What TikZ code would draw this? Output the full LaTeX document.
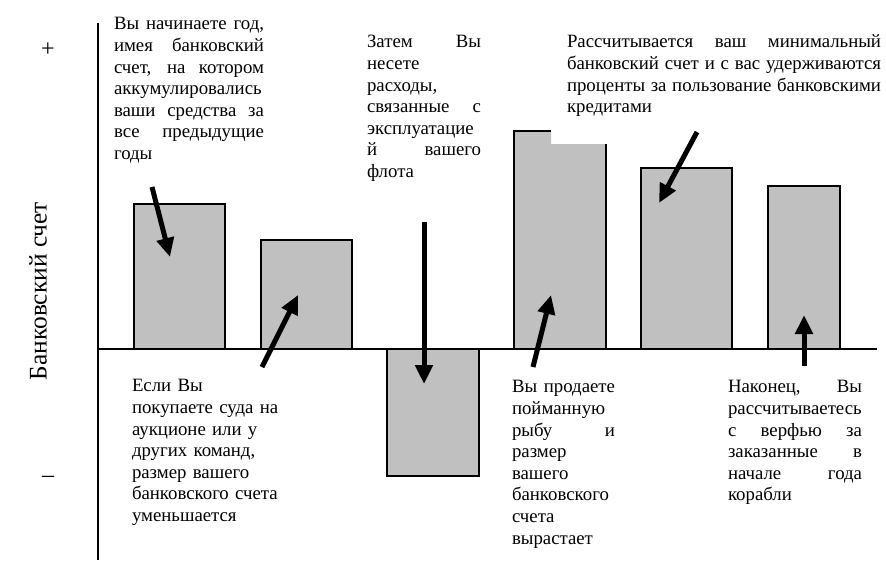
\documentclass[tikz,border=0pt]{standalone}
\usepackage{fontspec}
\setmainfont{Liberation Serif}
\usetikzlibrary{arrows.meta}
\newcommand\jl[1]{{\spaceskip=0.25em plus 1fil\relax\xspaceskip=0.25em plus 1fil\relax\makebox[\hsize][s]{#1}}}
\definecolor{bargray}{RGB}{192,192,192}
\begin{document}
\begin{tikzpicture}[x=1pt,y=-1pt,
  txt/.style={anchor=north west,inner sep=0pt,outer sep=0pt,align=left,font=\fontsize{18.8}{21.6}\selectfont},
  sign/.style={inner sep=0pt,font=\fontsize{24}{28}\selectfont},
  bar/.style={fill=bargray,draw=black,line width=1.3pt},
  axis/.style={line width=1.6pt},
  bigarrow/.style={line width=5pt,-{Triangle[length=19pt,width=17pt]}}]
\useasboundingbox[fill=white] (0,0) rectangle (886,576);

% bars
\draw[bar] (134,349) rectangle (225,204);
\draw[bar] (261,349) rectangle (352,240);
\draw[bar] (387,349) rectangle (479,476);
\fill[bargray] (514,349) -- (514,131) -- (551,131) -- (551,144) -- (606,144) -- (606,349) -- cycle;
\draw[line width=1.3pt] (514,349) -- (514,131) -- (551,131);
\draw[line width=1.3pt] (606,144) -- (606,349);
\draw[bar] (641,349) rectangle (732,168);
\draw[bar] (768,349) rectangle (840,186);

% axes
\coordinate (ytop) at (98,23);
\coordinate (ybot) at (98,560);
\coordinate (xleft) at (98,349);
\coordinate (xright) at (877,349);
\draw[axis] (ytop) -- (ybot);
\draw[axis] (xleft) -- (xright);

% signs and axis label
\node[sign] (plus) at (48,50) {+};
\node[sign] (minus) at (48,479) {–};
\node[rotate=90,inner sep=0pt,font=\fontsize{25.4}{30}\selectfont] (ylabel) at (38,291) {Банковский счет};

% texts
\node[txt,text width=150pt] (t1) at (114,14.8) {\strut\jl{Вы начинаете год,}\\\jl{имея банковский}\\\jl{счет, на котором}\\\jl{аккумулировались}\\\jl{ваши средства за}\\\jl{все предыдущие}\\годы};
\node[txt,text width=114pt] (t2) at (367,32.8) {\strut\jl{Затем Вы}\\несете\\расходы,\\\jl{связанные с}\\эксплуатацие\\\jl{й вашего}\\флота};
\node[txt,text width=314pt] (t3) at (567,32.8) {\strut\jl{Рассчитывается ваш минимальный}\\\jl{банковский счет и с вас удерживаются}\\\jl{проценты за пользование банковскими}\\кредитами};
\node[txt,text width=160pt] (t4) at (132,376.8) {\strut Если Вы\\покупаете суда на\\аукционе или у\\других команд,\\размер вашего\\банковского счета\\уменьшается};
\node[txt,text width=103pt] (t5) at (512,377.8) {\strut\jl{Вы продаете}\\пойманную\\\jl{рыбу и}\\размер\\вашего\\банковского\\счета\\вырастает};
\node[txt,text width=134pt] (t6) at (728,377.8) {\strut\jl{Наконец, Вы}\\рассчитываетесь\\\jl{с верфью за}\\\jl{заказанные в}\\\jl{начале года}\\корабли};

% arrows
\coordinate (a1s) at (152,187); \coordinate (a1e) at (170,257);
\coordinate (a2s) at (262,367); \coordinate (a2e) at (298,295);
\coordinate (a3s) at (424,222); \coordinate (a3e) at (424,384);
\coordinate (a4s) at (533,367); \coordinate (a4e) at (551,295);
\coordinate (a5s) at (697,132); \coordinate (a5e) at (659,203);
\coordinate (a6s) at (804,366); \coordinate (a6e) at (804,315);
\draw[bigarrow] (a1s) -- (a1e);
\draw[bigarrow] (a2s) -- (a2e);
\draw[bigarrow] (a3s) -- (a3e);
\draw[bigarrow] (a4s) -- (a4e);
\draw[bigarrow] (a5s) -- (a5e);
\draw[bigarrow] (a6s) -- (a6e);
\end{tikzpicture}
\end{document}
